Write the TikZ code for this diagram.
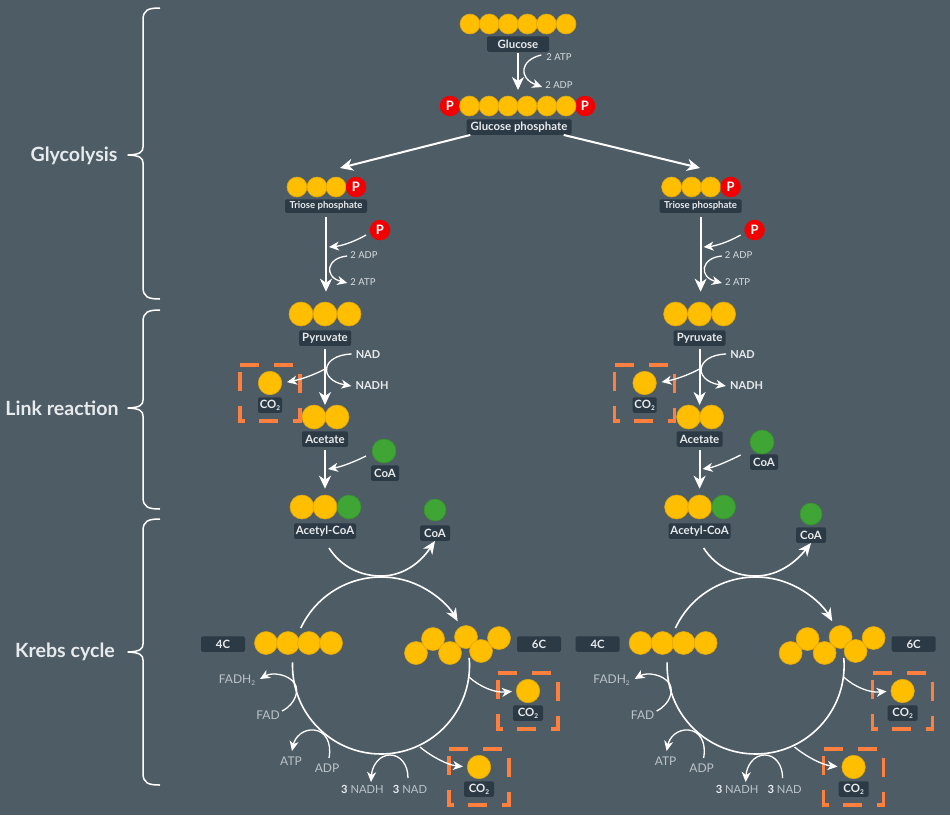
\documentclass[tikz,border=0pt]{standalone}
\usepackage{fontspec}
\setmainfont{Lato}
\usetikzlibrary{arrows.meta}
\definecolor{bg}{HTML}{4E5C66}
\definecolor{lab}{HTML}{2C3A46}
\definecolor{gold}{HTML}{FFBE00}
\definecolor{goldd}{HTML}{DDA512}
\definecolor{leaf}{HTML}{3FA535}
\definecolor{leafd}{HTML}{37902E}
\definecolor{pred}{HTML}{F20000}
\definecolor{dash}{HTML}{FF7F3F}
\definecolor{soft}{HTML}{E8EBED}
\definecolor{mid}{HTML}{D8DDE0}
\definecolor{dim}{HTML}{BCC4C9}
\newcommand{\subtwo}{\raisebox{-0.35ex}{\fontsize{6.5}{6.5}\selectfont 2}}
\tikzset{
  x=1pt,y=-1pt,
  ball/.style={circle,fill=gold,draw=goldd,line width=.6pt,inner sep=0pt,minimum size=#1},
  gball/.style={circle,fill=leaf,draw=leafd,line width=.6pt,inner sep=0pt,minimum size=#1},
  pball/.style={circle,fill=pred,inner sep=0pt,minimum size=20.5pt,text=white,font=\fontsize{13}{13}\selectfont\bfseries},
  tag/.style={fill=lab,rounded corners=1.5pt,text=soft,inner sep=0pt,minimum width=#1,minimum height=15.5pt,font=\fontsize{11.4}{12}\selectfont\bfseries},
  stag/.style={tag=#1,minimum height=13.5pt,font=\fontsize{9.6}{10}\selectfont\bfseries},
  note/.style={text=mid,inner sep=0pt,font=\fontsize{9.5}{10}\selectfont},
  cnote/.style={text=soft,inner sep=0pt,font=\fontsize{11}{12}\selectfont\bfseries},
  fnote/.style={text=dim,inner sep=0pt,font=\fontsize{12}{13}\selectfont},
  head/.style={text=soft,inner sep=0pt,font=\fontsize{19.6}{21}\selectfont\bfseries},
  big/.style={draw=white,line width=2pt,-{Stealth[inset=4pt,length=13pt,width=12pt]}},
  small/.style={draw=white,line width=1.3pt,-{Stealth[inset=3pt,length=10pt,width=9pt]}},
  ring/.style={draw=white,line width=1.6pt},
  ringa/.style={ring,-{Stealth[inset=4pt,length=13pt,width=11pt]}},
  brace/.style={draw=white,line width=1.5pt,line join=round},
  dashbit/.style={draw=dash,line width=3.6pt,line join=miter},
  pics/co2/.style={code={
    \node[ball=23.5pt] (ball) at (0,0) {};
    \node[tag=#1] (lab) at (0,22) {CO\subtwo};
    \draw[dashbit] (-30,-18) -- (-11,-18);
    \draw[dashbit] (4,-18) -- (23,-18);
    \draw[dashbit] (-30,-11) -- (-30,8);
    \draw[dashbit] (30,-9) -- (30,10);
    \draw[dashbit] (-30,23) -- (-30,38) -- (-25,38);
    \draw[dashbit] (-11,38) -- (8,38);
    \draw[dashbit] (23,38) -- (30,38) -- (30,25);
  }},
  pics/column/.style={code={
    % triose
    \node[ball=20pt] (t1) at (297,187) {};
    \node[ball=20pt] (t2) at (317,187) {};
    \node[ball=20pt] (t3) at (336,187) {};
    \node[pball] (t4) at (356,187) {P};
    \node[stag=82pt] (tl) at (326,206) {Triose phosphate};
    \node[pball] (p2) at (380,230) {P};
    % pyruvate
    \node[ball=24pt] (y1) at (301,314) {};
    \node[ball=24pt] (y2) at (325,314) {};
    \node[ball=24pt] (y3) at (349,314) {};
    \node[tag=52pt] (yl) at (325,338) {Pyruvate};
    \draw[big,shorten <=4pt,shorten >=10pt] (tl.south) -- (tl.south |- y2.north);
    \coordinate (ca) at (366,235); \coordinate (cb) at (329,247);
    \draw[small] (ca) .. controls (352,243) and (340,246) .. (cb);
    \node[note] (adp) at (364,255) {2 ADP};
    \node[note] (atp) at (363,282) {2 ATP};
    \draw[small] (adp.west) ++(-3,1) .. controls (326,258) and (324,277) .. ([xshift=-3pt,yshift=-1pt]atp.west);
    % acetate
    \node[ball=24pt] (a1) at (314,417) {};
    \node[ball=24pt] (a2) at (337,417) {};
    \node[tag=46pt] (al) at (325,439) {Acetate};
    \coordinate (atop) at (325,416);
    \draw[big,shorten <=3pt,shorten >=11pt] (yl) -- (atop);
    \node[cnote] (nad) at (368,355) {NAD};
    \node[cnote] (nadh) at (372,386) {NADH};
    \draw[small] (nad.west) ++(-4,-1) .. controls (321,355) and (318,380) .. ([xshift=-4pt]nadh.west);
    \pic (c1) at (270,383) {co2=24pt};
    \coordinate (cs) at (325,369);
    \draw[small,shorten >=5pt] (cs) .. controls (312,376) and (298,380) .. (c1ball.east);
    % acetyl
    \node[ball=24pt] (b1) at (302,507) {};
    \node[ball=24pt] (b2) at (325,507) {};
    \node[gball=24pt] (b3) at (349,507) {};
    \node[tag=62pt] (bl) at (325,531) {Acetyl-CoA};
    \draw[big,shorten <=3pt,shorten >=6pt] (al) -- (b2);
    \node[gball=24pt] (g1) at (\coaX,\coaY) {};
    \node[tag=28pt] (g1l) at (\coaLX,\coaLY) {CoA};
    \coordinate (da) at (366,\coaS); \coordinate (db) at (328,469);
    \draw[small] (da) .. controls (352,\coaS+7) and (340,467) .. (db);
    \node[gball=22pt] (g2) at (\cobX,\cobY) {};
    \node[tag=30pt] (g2l) at (\cobX,\cobLY) {CoA};
    \coordinate (ea) at (329,548);
    \draw[ringa] (ea) .. controls (342,568) and (362,576) .. (381,576) .. controls (400,576) and (418,566) .. (g2l.south);
    % krebs
    \coordinate (k) at (381,665.5);
    \node[tag=44pt] (f4) at (223,644) {4C};
    \node[ball=23pt] (h1) at (266,643) {};
    \node[ball=23pt] (h2) at (288,643) {};
    \node[ball=23pt] (h3) at (309,643) {};
    \node[ball=23pt] (h4) at (331,643) {};
    \node[ball=23pt] (s1) at (416,653) {};
    \node[ball=23pt] (s2) at (433,639) {};
    \node[ball=23pt] (s3) at (450,653) {};
    \node[ball=23pt] (s4) at (466,637) {};
    \node[ball=23pt] (s5) at (481,651) {};
    \node[ball=23pt] (s6) at (499,638) {};
    \node[tag=44pt] (f6) at (539,644) {6C};
    \draw[ringa] (k) ++(205:88.5) arc[start angle=205,end angle=330,radius=88.5];
    \draw[ring] (k) ++(-5:88.5) arc[start angle=-5,end angle=182,radius=88.5];
    \pic (c2) at (528,691) {co2=30pt};
    \pic (c3) at (479,767) {co2=30pt};
    \coordinate (ga) at (469,677);
    \draw[small,shorten >=4pt] (ga) .. controls (480,687) and (495,693) .. (c2ball.west);
    \coordinate (gb) at (420,747);
    \draw[small,shorten >=4pt] (gb) .. controls (432,757) and (448,765) .. (c3ball.west);
    \node[fnote] (fadh) at (237,680) {FADH\subtwo};
    \node[fnote] (fad) at (268,715) {FAD};
    \coordinate (fa) at (282,711);
    \draw[small] (fa) .. controls (296,704) and (299,690) .. (295,684) .. controls (289,674) and (272,672) .. (260,679);
    \node[fnote] (atpb) at (291,761) {ATP};
    \node[fnote] (adpb) at (327,768) {ADP};
    \coordinate (ha) at (329,758);
    \draw[small] (ha) .. controls (332,742) and (325,731) .. (314,730) .. controls (303,729) and (295,737) .. (292,751);
    \node[text=soft,inner sep=0pt] (nh) at (362.5,789) {\fontsize{11.2}{13}\selectfont\textbf{3} \textcolor{dim}{NADH}};
    \node[text=soft,inner sep=0pt] (nn) at (410,789) {\fontsize{11.2}{13}\selectfont\textbf{3} \textcolor{dim}{NAD}};
    \coordinate (ia) at (408,778);
    \draw[small] (ia) .. controls (408,764) and (400,755) .. (390,755) .. controls (379,755) and (372,766) .. (371,782);
  }}
}
\begin{document}
\begin{tikzpicture}
\path[fill=bg] (0,0) rectangle (950,815);
\useasboundingbox (0,0) rectangle (950,815);
% top
\foreach \n/\xx in {1/470,2/489.3,3/508.3,4/527.5,5/546.5,6/566}
  \node[ball=20pt] (g\n) at (\xx,24) {};
\node[tag=62pt] (gl) at (518,44) {Glucose};
\node[pball] (pl) at (450,106) {P};
\node[pball] (pr) at (585,106) {P};
\foreach \n/\xx in {1/469.5,2/489,3/508,4/527,5/547,6/566}
  \node[ball=20pt] (q\n) at (\xx,106) {};
\node[tag=105pt] (ql) at (519,127) {Glucose phosphate};
\coordinate (qt) at (518,106);
\draw[big,shorten <=1pt,shorten >=16pt] (gl) -- (qt);
\node[note] (tatp) at (559,57) {2 ATP};
\node[note] (tadp) at (559,85) {2 ADP};
\draw[small] ([xshift=-5pt,yshift=2pt]tatp.west) .. controls (520,60) and (518,78) .. ([xshift=-3pt,yshift=-2pt]tadp.west);
% columns
\def\coaX{384}\def\coaY{451}\def\coaLX{385}\def\coaLY{473}\def\coaS{456}\def\cobX{435}\def\cobY{510}\def\cobLY{533}
\pic (L) at (0,0) {column};
\def\coaX{387.4}\def\coaY{442}\def\coaLX{389.4}\def\coaLY{462}\def\coaS{455}\def\cobX{436.4}\def\cobY{514}\def\cobLY{535}
\pic (R) at (374.6,0) {column};
\coordinate (el) at (340,168);
\coordinate (er) at (700,168);
\draw[big] ([xshift=4pt]ql.south west) -- (el);
\draw[big] ([xshift=-8pt]ql.south east) -- (er);
% side brackets
\coordinate (b1a) at (160,8);
\coordinate (b1b) at (160,299);
\coordinate (b1t) at (128,155);
\draw[brace] (b1a) .. controls (148,8) and (143,10) .. (143,20) -- (143,147) .. controls (143,152) and (140,154.5) .. (b1t) .. controls (140,155.5) and (143,158) .. (143,163) -- (143,287) .. controls (143,297) and (148,299) .. (b1b);
\coordinate (b2a) at (160,310);
\coordinate (b2b) at (160,509);
\coordinate (b2t) at (128,408);
\draw[brace] (b2a) .. controls (148,310) and (143,312) .. (143,322) -- (143,400) .. controls (143,405) and (140,407.5) .. (b2t) .. controls (140,408.5) and (143,411) .. (143,416) -- (143,497) .. controls (143,507) and (148,509) .. (b2b);
\coordinate (b3a) at (160,519);
\coordinate (b3b) at (160,785);
\coordinate (b3t) at (128,652);
\draw[brace] (b3a) .. controls (148,519) and (143,521) .. (143,531) -- (143,644) .. controls (143,649) and (140,651.5) .. (b3t) .. controls (140,652.5) and (143,655) .. (143,660) -- (143,773) .. controls (143,783) and (148,785) .. (b3b);
\node[head] (h1) at (74,156) {Glycolysis};
\node[head] (h2) at (62,408) {Link reaction};
\node[head] (h3) at (65,652) {Krebs cycle};
\end{tikzpicture}
\end{document}
